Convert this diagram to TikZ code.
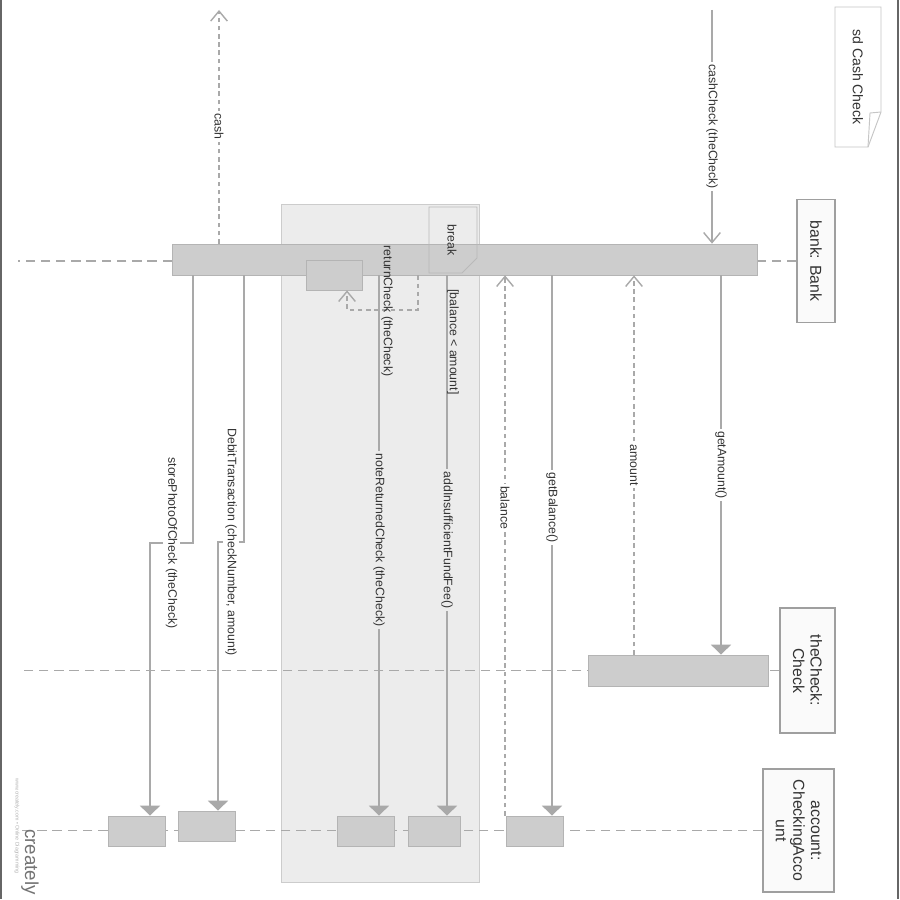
\documentclass[tikz,border=0pt]{standalone}
\usepackage{fontspec}
\setmainfont{Liberation Sans}
\usetikzlibrary{arrows.meta}
\definecolor{lnc}{HTML}{A9A9A9}
\definecolor{txc}{HTML}{333333}
\definecolor{actc}{HTML}{CDCDCD}
\definecolor{frc}{HTML}{ECECEC}
\newcommand{\px}{0.03cm}
\newcommand{\lblfont}{\fontsize{10.5}{12}\selectfont}

\begin{document}
\begin{tikzpicture}[x=\px,y=-\px]
    \tikzstyle{objhead}=[draw=gray!75, fill=gray!4, text=txc, rotate=-90, align=center, line width=1pt, font=\fontsize{13.5}{15}\selectfont]
    \tikzstyle{actbox}=[draw=actc!88!black, fill=actc, inner sep=0pt, line width=0.6pt]
    \tikzstyle{lifeline}=[draw=lnc, line width=1.2pt, dash pattern=on 8pt off 5pt]
    \tikzstyle{msg}=[draw=lnc, line width=1.2pt, -{Triangle[length=3mm,width=6mm]}]
    \tikzstyle{call}=[draw=lnc, line width=1.2pt, -{Straight Barb[length=3mm,width=5mm,line width=1.2pt]}]
    \tikzstyle{reply}=[call, dash pattern=on 4pt off 3pt]
    \tikzstyle{lbl}=[fill=white, text=txc, rotate=-90, inner sep=2pt, font=\lblfont]
    \tikzstyle{inlbl}=[lbl, fill=frc]
    \useasboundingbox (0,0) rectangle (900,899);
    \fill[white] (0,0) rectangle (900,899);
    \draw[gray!80!black, line width=1.2pt] (1,0) -- (1,899);
    \draw[gray!80!black, line width=1pt] (898,0) -- (898,899);

    \node[draw=gray!40, fill=frc, minimum width=198*\px, minimum height=678*\px, inner sep=0pt, line width=0.8pt] (brk) at (380,543) {};

    \node[draw=none, text=txc, rotate=-90, font=\fontsize{12}{14}\selectfont] (sd) at (858,77) {sd Cash Check};
    \draw[gray!45, line width=0.8pt] (835,7) -- (881,7) -- (881,112) -- (868,147) -- (835,147) -- cycle;
    \draw[gray!45, line width=0.8pt] (868,147) -- (870,113) -- (881,112);

    \node[objhead, minimum width=123*\px, minimum height=38*\px] (bank) at (816,261) {bank: Bank};
    \node[objhead, minimum width=125*\px, minimum height=55*\px] (chk) at (807.5,670.5) {theCheck:\\Check};
    \node[objhead, minimum width=123*\px, minimum height=71*\px] (acc) at (798.5,830.5) {account:\\CheckingAcco\\unt};

    \coordinate (lend) at (18,0);
    \draw[lifeline] (bank.south) -- (bank.south -| lend);
    \draw[lifeline] (chk.south) -- (chk.south -| lend);
    \draw[lifeline] (acc.south) -- (acc.south -| lend);

    \node[actbox, minimum width=585*\px, minimum height=31*\px] (bankact) at (464.5,259.5) {};
    \draw[gray!55, line width=0.8pt] (429,207) -- (477,207) -- (477,258) -- (462,273) -- (429,273) -- cycle;
    \node[text=txc, rotate=-90, font=\lblfont] (brklbl) at (452,240) {break};
    \node[actbox, minimum width=56*\px, minimum height=30*\px] (retact) at (334,275) {};
    \node[actbox, minimum width=180*\px, minimum height=31*\px] (chkact) at (678,670.5) {};
    \node[actbox, minimum width=57*\px, minimum height=30*\px] (acc1) at (136.5,831) {};
    \node[actbox, minimum width=57*\px, minimum height=30*\px] (acc2) at (206.5,826) {};
    \node[actbox, minimum width=57*\px, minimum height=30*\px] (acc3) at (365.5,831) {};
    \node[actbox, minimum width=52*\px, minimum height=30*\px] (acc4) at (434,831) {};
    \node[actbox, minimum width=57*\px, minimum height=30*\px] (acc5) at (534.5,831) {};

    \coordinate (cctop) at (712,10);
    \coordinate (cashtop) at (219,10);
    \coordinate (xga) at (721,0);
    \coordinate (xam) at (634,0);
    \coordinate (xgb) at (552,0);
    \coordinate (xbl) at (505,0);
    \coordinate (xfee) at (447,0);
    \coordinate (xnote) at (379,0);
    \coordinate (rc1) at (418,310);
    \coordinate (rc2) at (347,310);
    \coordinate (db1) at (244,542);
    \coordinate (db2) at (218,542);
    \coordinate (sp1) at (193,543);
    \coordinate (sp2) at (150,543);

    \draw[call] (cctop) -- node[lbl] {cashCheck (theCheck)} (bankact.north -| cctop);
    \draw[reply] (bankact.north -| cashtop) -- node[lbl] {cash} (cashtop);
    \draw[msg] (bankact.south -| xga) -- node[lbl] {getAmount()} (chkact.north -| xga);
    \draw[reply] (chkact.north -| xam) -- node[lbl] {amount} (bankact.south -| xam);
    \draw[msg] (bankact.south -| xgb) -- node[lbl, pos=0.43] {getBalance()} (acc5.north -| xgb);
    \draw[reply] (acc5.north -| xbl) -- node[lbl, pos=0.57] {balance} (bankact.south -| xbl);
    \draw[msg] (bankact.south -| xfee) -- node[inlbl, pos=0.49] {addInsufficientFundFee()} (acc4.north -| xfee);
    \node[text=txc, rotate=-90, font=\lblfont] (guard) at (453,342) {[balance < amount]};
    \draw[reply] (bankact.south -| rc1) -- (rc1) -- (rc2) -- (retact.south -| rc2);
    \node[text=txc, rotate=-90, font=\lblfont] (rclbl) at (387,311) {returnCheck (theCheck)};
    \draw[msg] (bankact.south -| xnote) -- node[inlbl, pos=0.49] {noteReturnedCheck (theCheck)} (acc3.north -| xnote);
    \draw[msg] (bankact.south -| db1) -- (db1) -- node[lbl] {DebitTransaction (checkNumber, amount)} (db2) -- (acc2.north -| db2);
    \draw[msg] (bankact.south -| sp1) -- (sp1) -- node[lbl] {storePhotoOfCheck (theCheck)} (sp2) -- (acc1.north -| sp2);

    \node[text=gray!90!black, rotate=-90, font=\fontsize{16}{18}\selectfont] (logo) at (30,862) {creately};
    \node[text=gray!60, rotate=-90, font=\fontsize{4.5}{5}\selectfont] (logourl) at (17,826) {www.creately.com • Online Diagramming};
\end{tikzpicture}
\end{document}
